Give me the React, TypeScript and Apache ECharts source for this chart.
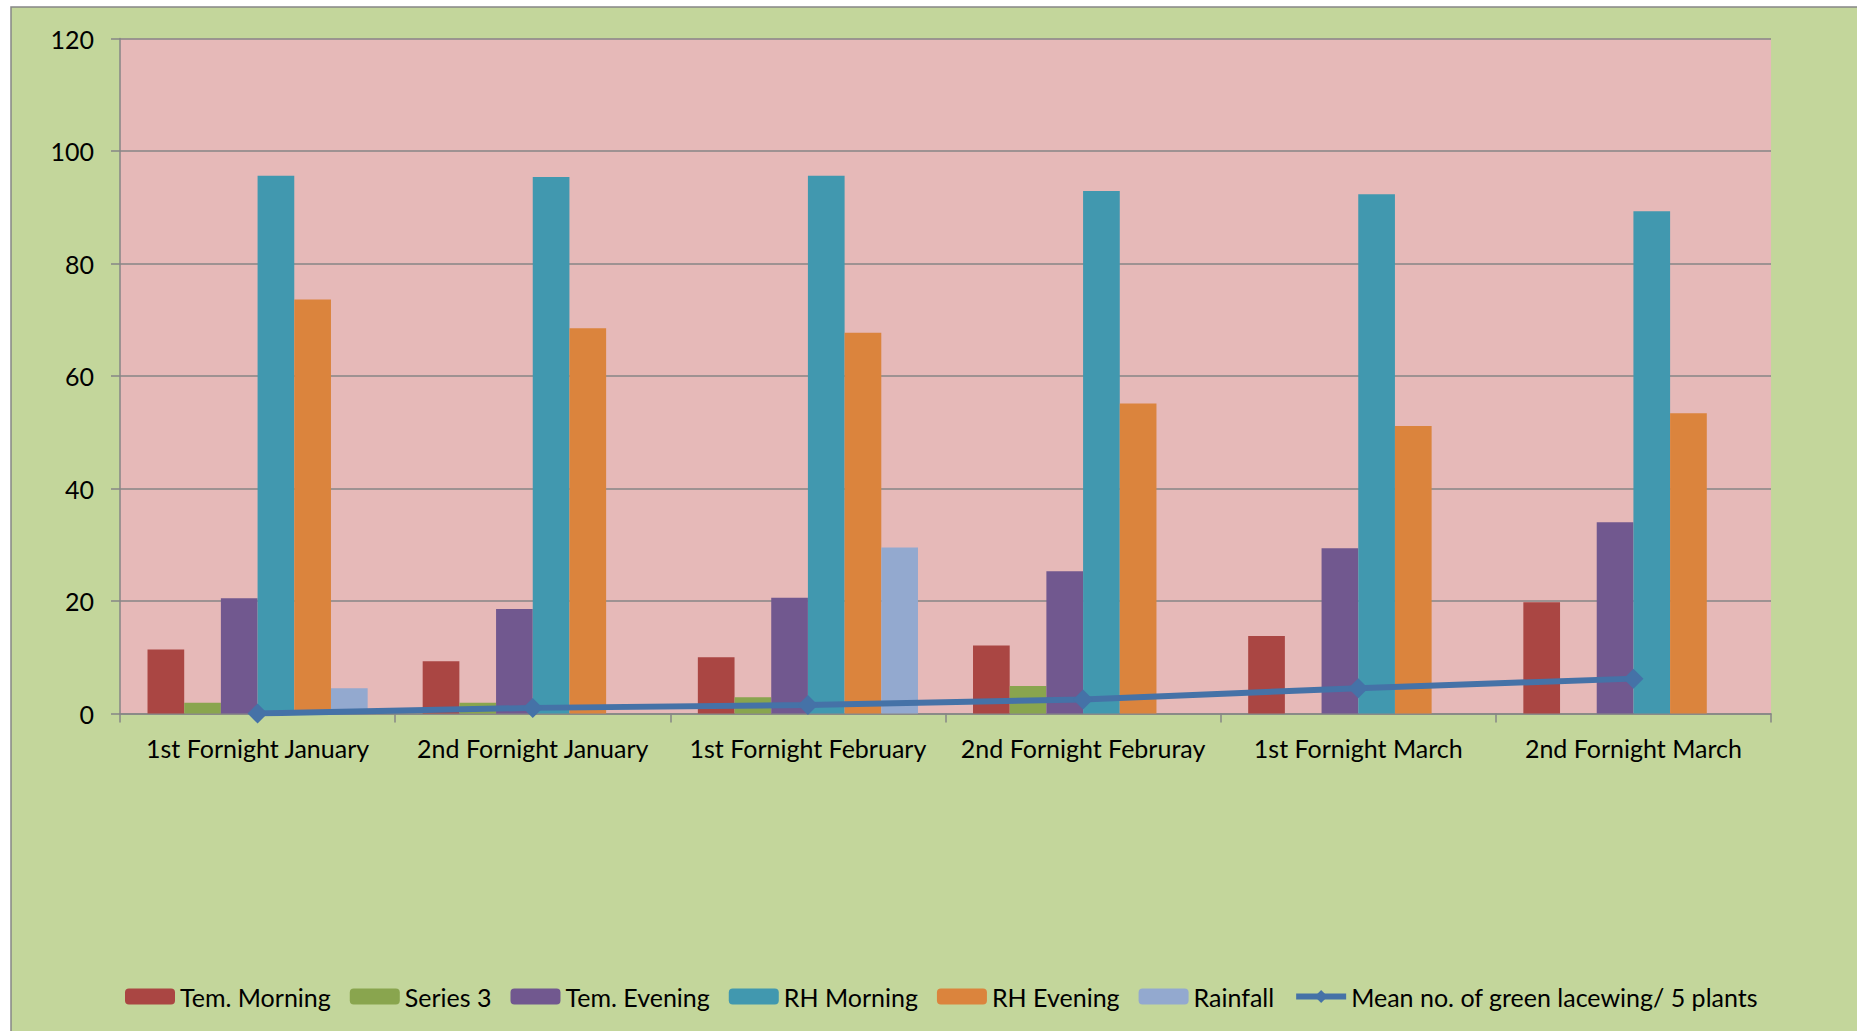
import React, { useEffect, useRef } from "react";
import * as echarts from "echarts";

const categories = [
  "1st Fornight January",
  "2nd Fornight January",
  "1st Fornight February",
  "2nd Fornight Februray",
  "1st Fornight March",
  "2nd Fornight March",
];
const temMorning = [11.4, 9.3, 10.0, 12.1, 13.8, 19.8];
const series3 = [1.9, 1.9, 2.9, 4.9, 0, 0];
const temEvening = [20.5, 18.6, 20.6, 25.3, 29.4, 34.0];
const rhMorning = [95.6, 95.4, 95.6, 92.9, 92.3, 89.3];
const rhEvening = [73.6, 68.5, 67.7, 55.1, 51.1, 53.4];
const rainfall = [4.5, 0, 29.5, 0, 0, 0];
const lacewing = [0, 1, 1.5, 2.5, 4.5, 6.2];
const yMin = 0;
const yMax = 120;
const yStep = 20;

const FONT = "Lato, 'Open Sans', sans-serif";
const GRAY = "#868686";
const LINE_NAME = "Mean no. of green lacewing/ 5 plants";

export default function App() {
  const ref = useRef<HTMLDivElement>(null);
  useEffect(() => {
    if (!ref.current) return;
    const chart = echarts.init(ref.current, undefined, { renderer: "svg" });
    const bar = (name: string, data: number[], color: string) => ({
      name,
      type: "bar",
      data,
      barGap: "0%",
      barCategoryGap: "20%",
      itemStyle: { color },
    });
    chart.setOption({
      animation: false,
      backgroundColor: "#ffffff",
      textStyle: { fontFamily: FONT },
      graphic: [
        {
          type: "rect",
          z: -10,
          silent: true,
          shape: { x: 11, y: 7, width: 1900, height: 1100 },
          style: { fill: "#C3D69B", stroke: GRAY, lineWidth: 1.5 },
        },
      ],
      grid: {
        left: 120,
        top: 38.5,
        right: 86,
        bottom: 317.5,
        show: true,
        backgroundColor: "#E6B9B8",
        borderWidth: 0,
        containLabel: false,
      },
      legend: {
        left: 120,
        top: 979,
        itemWidth: 50,
        itemHeight: 16,
        itemGap: 19,
        textStyle: { fontFamily: FONT, fontSize: 25, color: "#000" },
        data: [
          "Tem. Morning",
          "Series 3",
          "Tem. Evening",
          "RH Morning",
          "RH Evening",
          "Rainfall",
          {
            name: LINE_NAME,
            lineStyle: { width: 6, color: "#4572A7" },
            itemStyle: { color: "#4572A7" },
          },
        ],
      },
      xAxis: {
        type: "category",
        data: categories,
        boundaryGap: true,
        axisLine: { show: true, lineStyle: { color: GRAY, width: 1.5 } },
        axisTick: { show: true, length: 9, lineStyle: { color: GRAY, width: 1.5 } },
        axisLabel: {
          margin: 22,
          fontFamily: FONT,
          fontSize: 25,
          color: "#000",
          interval: 0,
        },
        splitLine: { show: false },
      },
      yAxis: {
        type: "value",
        min: yMin,
        max: yMax,
        interval: yStep,
        axisLine: { show: true, lineStyle: { color: GRAY, width: 1.5 } },
        axisTick: { show: true, length: 9, lineStyle: { color: GRAY, width: 1.5 } },
        axisLabel: {
          margin: 26,
          fontFamily: FONT,
          fontSize: 25,
          color: "#000",
        },
        splitLine: { show: true, lineStyle: { color: GRAY, width: 1.5 } },
      },
      series: [
        bar("Tem. Morning", temMorning, "#AA4643"),
        bar("Series 3", series3, "#89A54E"),
        bar("Tem. Evening", temEvening, "#71588F"),
        bar("RH Morning", rhMorning, "#4198AF"),
        bar("RH Evening", rhEvening, "#DB843D"),
        bar("Rainfall", rainfall, "#93A9CF"),
        {
          name: LINE_NAME,
          type: "line",
          data: lacewing,
          z: 5,
          symbol: "diamond",
          symbolSize: 20,
          lineStyle: { color: "#4572A7", width: 6 },
          itemStyle: { color: "#4572A7" },
        },
      ],
    });
    return () => chart.dispose();
  }, []);
  return (
    <div
      ref={ref}
      style={{ position: "absolute", left: 0, top: 0, width: 1857, height: 1031 }}
    />
  );
}
